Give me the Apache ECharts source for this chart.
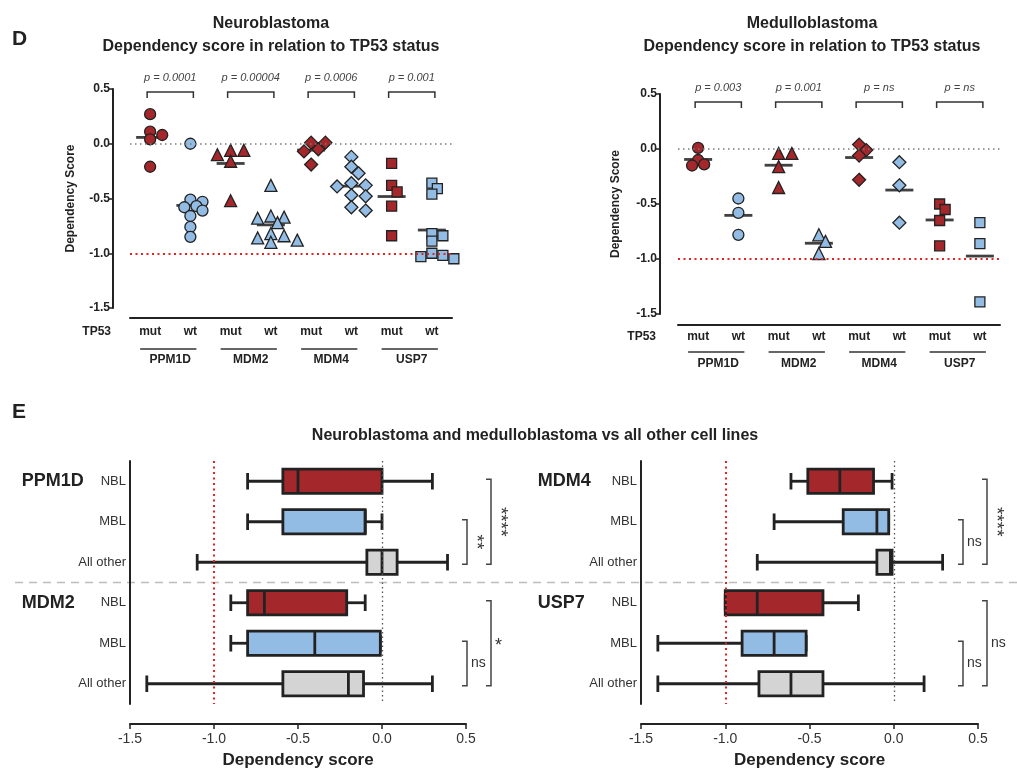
<!DOCTYPE html>
<html lang="en">
<head>
<meta charset="UTF-8">
<title>Dependency score</title>
<style>html,body{margin:0;padding:0;background:#fff;} #main{width:1017px;height:774px;}</style>
</head>
<body>
<div id="main"></div>
<script src="https://cdn.jsdelivr.net/npm/echarts@6/dist/echarts.min.js"></script>
<script>
// ---- values ----
var genes = ['PPM1D', 'MDM2', 'MDM4', 'USP7'];
var tp53 = ['mut', 'wt'];

// panel D, one list per gene (same order as genes)
var nblMut = [
    [0.27, 0.11, 0.08, 0.04, -0.21],
    [-0.06, -0.06, -0.10, -0.16, -0.52],
    [0.01, 0.01, -0.05, -0.07, -0.19],
    [-0.18, -0.38, -0.44, -0.57, -0.84]
];
var nblWt = [
    [0.00, -0.51, -0.53, -0.57, -0.58, -0.61, -0.66, -0.76, -0.85],
    [-0.38, -0.66, -0.67, -0.68, -0.72, -0.82, -0.84, -0.86, -0.88, -0.90],
    [-0.12, -0.21, -0.27, -0.36, -0.38, -0.39, -0.47, -0.48, -0.58, -0.61],
    [-0.36, -0.41, -0.46, -0.82, -0.84, -0.89, -1.00, -1.02, -1.03, -1.05]
];
var mblMut = [
    [0.01, -0.10, -0.14, -0.15],
    [-0.04, -0.04, -0.16, -0.35],
    [0.04, -0.01, -0.06, -0.28],
    [-0.50, -0.55, -0.65, -0.88]
];
var mblWt = [
    [-0.45, -0.58, -0.78],
    [-0.78, -0.84, -0.95],
    [-0.12, -0.33, -0.67],
    [-0.67, -0.86, -1.39]
];
var nblP = ['p = 0.0001', 'p = 0.00004', 'p = 0.0006', 'p = 0.001'];
var mblP = ['p = 0.003', 'p = 0.001', 'p = ns', 'p = ns'];

// panel E, [min, Q1, median, Q3, max] for NBL, MBL, All other
var boxGroups = ['NBL', 'MBL', 'All other'];
var boxPPM1D = [[-0.80, -0.59, -0.50, 0.00, 0.30], [-0.80, -0.59, -0.10, -0.10, 0.00], [-1.10, -0.09, 0.00, 0.09, 0.39]];
var boxMDM2 = [[-0.90, -0.80, -0.70, -0.21, -0.10], [-0.90, -0.80, -0.40, -0.01, -0.01], [-1.40, -0.59, -0.20, -0.11, 0.30]];
var boxMDM4 = [[-0.61, -0.51, -0.32, -0.12, -0.01], [-0.71, -0.30, -0.10, -0.03, -0.03], [-0.81, -0.10, -0.02, -0.01, 0.29]];
var boxUSP7 = [[-1.00, -1.00, -0.81, -0.42, -0.21], [-1.40, -0.90, -0.71, -0.52, -0.52], [-1.40, -0.80, -0.61, -0.42, 0.18]];
// [MBL vs all other, NBL vs all other]
var sigPPM1D = ['**', '****'];
var sigMDM2 = ['ns', '*'];
var sigMDM4 = ['ns', '****'];
var sigUSP7 = ['ns', 'ns'];

// ---- styling ----
var FONT = 'Liberation Sans, Arial, Helvetica, sans-serif';
var RED = '#a4272b', BLUE = '#93bce4', GREY = '#d4d4d4', INK = '#222';
var groupColors = [RED, BLUE, GREY];
var shapes = ['circle', 'triangle', 'diamond', 'rect'];
var shapeSize = [11, 12, 13, 10];

var chart = echarts.init(document.getElementById('main'));

var catKeys = [];
genes.forEach(function (g) {
    tp53.forEach(function (s) { catKeys.push(g + ' ' + s); });
});

function mean(a) {
    return a.reduce(function (s, v) { return s + v; }, 0) / a.length;
}

// simple beeswarm: horizontal pixel offsets so points only partly overlap
function swarm(vals, pxPerUnit, size) {
    var placed = [];
    return vals.map(function (v) {
        var y = v * pxPerUnit, dx = 0;
        for (var k = 0; k < 30; k++) {
            dx = (k % 2 ? 1 : -1) * Math.ceil(k / 2) * size * 0.55;
            var free = placed.every(function (p) {
                var a = p[0] - dx, b = p[1] - y;
                return a * a + b * b >= size * size * 0.45;
            });
            if (free) break;
        }
        placed.push([dx, y]);
        return dx;
    });
}

function bold(size) {
    return {color: INK, fontFamily: FONT, fontSize: size, fontWeight: 'bold'};
}

var topPanels = [
    {title: 'Neuroblastoma', cx: 271, mut: nblMut, wt: nblWt, p: nblP,
        left: 130, top: 89, width: 322, height: 219, yOffset: 17, xOffset: 10,
        labelMargin: 8, groupMargin: 36, tpGap: 19, nameGap: 36, bracketGap: 3, underline: 41},
    {title: 'Medulloblastoma', cx: 812, mut: mblMut, wt: mblWt, p: mblP,
        left: 678, top: 94, width: 322, height: 220, yOffset: 18, xOffset: 11,
        labelMargin: 6, groupMargin: 33, tpGap: 22, nameGap: 38, bracketGap: 8, underline: 38}
];

var boxPanels = [
    {genes: ['PPM1D', 'MDM2'], boxes: [boxPPM1D, boxMDM2], sig: [sigPPM1D, sigMDM2], left: 130, width: 336, sigBase: 1, geneWidth: 79},
    {genes: ['MDM4', 'USP7'], boxes: [boxMDM4, boxUSP7], sig: [sigMDM4, sigUSP7], left: 641, width: 337, sigBase: -15, geneWidth: 74}
];

var grids = [], xAxes = [], yAxes = [], series = [];
var titles = [
    {text: 'D', left: 12, top: 29, padding: 0, textStyle: bold(21)},
    {text: 'E', left: 12, top: 402, padding: 0, textStyle: bold(21)},
    {text: 'Neuroblastoma and medulloblastoma vs all other cell lines', left: 535, top: 428, padding: 0,
        textAlign: 'center', textStyle: bold(16)}
];

// ---- panel D: scatter by TP53 status ----
topPanels.forEach(function (pn, i) {
    titles.push({
        text: pn.title + '\nDependency score in relation to TP53 status',
        left: pn.cx, top: 12, padding: 0, textAlign: 'center',
        textStyle: Object.assign(bold(16), {lineHeight: 23})
    });
    grids.push({left: pn.left, top: pn.top, width: pn.width, height: pn.height});
    xAxes.push({
        type: 'category', gridIndex: i, data: catKeys, position: 'bottom', offset: pn.xOffset,
        axisLine: {onZero: false, lineStyle: {color: INK, width: 2}},
        axisTick: {alignWithLabel: true, length: 4, lineStyle: {color: INK, width: 1.5}},
        axisLabel: Object.assign(bold(12), {
            margin: pn.labelMargin, interval: 0,
            formatter: function (v) { return v.split(' ')[1]; }
        }),
        name: 'TP53', nameLocation: 'start', nameGap: pn.tpGap,
        nameTextStyle: Object.assign(bold(12), {verticalAlign: 'top', padding: [pn.labelMargin, 0, 0, 0]})
    });
    xAxes.push({
        type: 'category', gridIndex: i, data: genes, position: 'bottom', offset: pn.xOffset,
        axisLine: {show: false}, axisTick: {show: false},
        axisLabel: Object.assign(bold(12), {margin: pn.groupMargin, interval: 0})
    });
    yAxes.push({
        type: 'value', gridIndex: i, min: -1.5, max: 0.5, interval: 0.5, offset: pn.yOffset,
        splitLine: {show: false},
        axisLine: {show: true, onZero: false, lineStyle: {color: INK, width: 2}},
        axisTick: {show: true, length: 4, lineStyle: {color: INK, width: 1.5}},
        axisLabel: Object.assign(bold(12), {margin: 3, formatter: function (v) { return v.toFixed(1); }}),
        name: 'Dependency Score', nameLocation: 'middle', nameGap: pn.nameGap, nameTextStyle: bold(12)
    });

    var xi = i * 2, pxPerUnit = pn.height / 2, means = [];
    genes.forEach(function (g, gi) {
        [pn.mut[gi], pn.wt[gi]].forEach(function (vals, si) {
            var cat = gi * 2 + si;
            var offs = swarm(vals, pxPerUnit, shapeSize[gi]);
            means.push([cat, mean(vals)]);
            series.push({
                type: 'scatter', xAxisIndex: xi, yAxisIndex: i, z: 3,
                symbol: shapes[gi], symbolSize: shapeSize[gi],
                itemStyle: {color: si ? BLUE : RED, borderColor: INK, borderWidth: 1.3, opacity: 1},
                data: vals.map(function (v, k) {
                    return {value: [cat, v], symbolOffset: [offs[k], 0]};
                })
            });
        });
    });
    // mean bars + reference lines
    series.push({
        type: 'scatter', xAxisIndex: xi, yAxisIndex: i, z: 2,
        symbol: 'rect', symbolSize: [28, 2.8], itemStyle: {color: '#111'},
        data: means,
        markLine: {
            silent: true, symbol: 'none', label: {show: false},
            data: [
                {yAxis: 0, lineStyle: {color: '#7a7a7a', type: [1.5, 3.5], width: 1.5}},
                {yAxis: -1, lineStyle: {color: '#e02424', type: [2, 3.5], width: 2}}
            ]
        }
    });
    // p-value brackets
    series.push({
        type: 'custom', xAxisIndex: xi, yAxisIndex: i, silent: true, z: 2,
        encode: {x: 0, y: 1},
        data: genes.map(function (g, gi) { return [gi * 2, gi * 2 + 1]; }),
        renderItem: function (params, api) {
            var y = params.coordSys.y + pn.bracketGap;
            var x0 = api.coord([api.value(0), 0])[0] - 3;
            var x1 = api.coord([api.value(1), 0])[0] + 3;
            return {
                type: 'group', children: [
                    {type: 'polyline', shape: {points: [[x0, y + 6], [x0, y], [x1, y], [x1, y + 6]]},
                        style: {stroke: '#333', lineWidth: 1.5, fill: null}},
                    {type: 'text', x: (x0 + x1) / 2, y: y - 14,
                        style: {text: pn.p[params.dataIndex], align: 'center', verticalAlign: 'middle',
                            fontSize: 11, fontStyle: 'italic', fontFamily: FONT, fill: '#444'}}
                ]
            };
        }
    });
});

// ---- panel E: box plots ----
boxPanels.forEach(function (pb, j) {
    var gIdx = 2 + j, xi = 4 + j;
    var rowKeys = [];
    pb.genes.forEach(function (g) {
        boxGroups.forEach(function (b) { rowKeys.push(g + '|' + b); });
    });
    grids.push({left: pb.left, top: 461, width: pb.width, height: 243});
    xAxes.push({
        type: 'value', gridIndex: gIdx, min: -1.5, max: 0.5, interval: 0.5, offset: 20, position: 'bottom',
        splitLine: {show: false},
        axisLine: {show: true, onZero: false, lineStyle: {color: INK, width: 2}},
        axisTick: {show: true, length: 5, lineStyle: {color: INK, width: 1.5}},
        axisLabel: {color: '#333', fontFamily: FONT, fontSize: 14, margin: 8,
            formatter: function (v) { return v.toFixed(1); }},
        name: 'Dependency score', nameLocation: 'middle', nameGap: 28, nameTextStyle: bold(17)
    });
    yAxes.push({
        type: 'category', gridIndex: gIdx, data: rowKeys, inverse: true,
        axisLine: {onZero: false, lineStyle: {color: INK, width: 2}},
        axisTick: {alignWithLabel: true, length: 4, lineStyle: {color: INK, width: 1.5}},
        axisLabel: {
            interval: 0, margin: 4, color: '#333', fontFamily: FONT, fontSize: 13,
            formatter: function (v) {
                var p = v.split('|');
                return p[1] === boxGroups[0] ? '{g|' + p[0] + '}' + p[1] : p[1];
            },
            rich: {g: Object.assign(bold(18), {width: pb.geneWidth, align: 'left'})}
        }
    });

    var boxData = [], sigData = [], sigText = [];
    pb.genes.forEach(function (g, gi) {
        pb.boxes[gi].forEach(function (q, k) {
            boxData.push({value: [g + '|' + boxGroups[k]].concat(q), itemStyle: {color: groupColors[k]}});
        });
        sigData.push([g + '|' + boxGroups[1], g + '|' + boxGroups[2], 0]);
        sigData.push([g + '|' + boxGroups[0], g + '|' + boxGroups[2], 1]);
        sigText.push(pb.sig[gi][0], pb.sig[gi][1]);
    });

    series.push({
        type: 'custom', xAxisIndex: xi, yAxisIndex: gIdx, z: 3,
        encode: {x: [1, 2, 3, 4, 5], y: 0},
        data: boxData,
        renderItem: function (params, api) {
            var row = api.value(0);
            var p = [1, 2, 3, 4, 5].map(function (d) { return api.coord([api.value(d), row]); });
            var h = api.size([0, 1])[1] * 0.6, cap = h * 0.68, yc = p[0][1];
            var ln = {stroke: INK, lineWidth: 2.8};
            return {
                type: 'group', children: [
                    {type: 'line', shape: {x1: p[0][0], y1: yc, x2: p[1][0], y2: yc}, style: ln},
                    {type: 'line', shape: {x1: p[3][0], y1: yc, x2: p[4][0], y2: yc}, style: ln},
                    {type: 'line', shape: {x1: p[0][0], y1: yc - cap / 2, x2: p[0][0], y2: yc + cap / 2}, style: ln},
                    {type: 'line', shape: {x1: p[4][0], y1: yc - cap / 2, x2: p[4][0], y2: yc + cap / 2}, style: ln},
                    {type: 'rect', shape: {x: p[1][0], y: yc - h / 2, width: p[3][0] - p[1][0], height: h},
                        style: {fill: api.visual('color'), stroke: INK, lineWidth: 2.8}},
                    {type: 'line', shape: {x1: p[2][0], y1: yc - h / 2, x2: p[2][0], y2: yc + h / 2}, style: ln}
                ]
            };
        }
    });
    // significance brackets
    series.push({
        type: 'custom', xAxisIndex: xi, yAxisIndex: gIdx, silent: true, z: 2,
        encode: {y: [0, 1], x: 2},
        data: sigData,
        renderItem: function (params, api) {
            var cs = params.coordSys;
            var ya = api.coord([0, api.value(0)])[1] - 2;
            var yb = api.coord([0, api.value(1)])[1] + 2;
            var x = cs.x + cs.width + pb.sigBase + api.value(2) * 24;
            var txt = sigText[params.dataIndex];
            var turned = txt.length > 1 && txt.charAt(0) === '*';
            var label = turned
                ? {type: 'text', x: x + 9, y: (ya + yb) / 2, rotation: -Math.PI / 2,
                    style: {text: txt, align: 'center', verticalAlign: 'middle', fontSize: 19, fontFamily: FONT, fill: '#333'}}
                : {type: 'text', x: x + 4, y: (ya + yb) / 2 + (txt === '*' ? 3 : 0),
                    style: {text: txt, align: 'left', verticalAlign: 'middle', fontSize: txt === '*' ? 18 : 14, fontFamily: FONT, fill: '#333'}};
            return {
                type: 'group', children: [
                    {type: 'polyline', shape: {points: [[x - 5, ya], [x, ya], [x, yb], [x - 5, yb]]},
                        style: {stroke: '#444', lineWidth: 1.5, fill: null}},
                    label
                ]
            };
        }
    });
    // reference lines at -1 and 0
    series.push({
        type: 'line', xAxisIndex: xi, yAxisIndex: gIdx, data: [],
        markLine: {
            silent: true, symbol: 'none', label: {show: false},
            data: [
                {xAxis: -1, lineStyle: {color: '#e02424', type: [2, 3.5], width: 2}},
                {xAxis: 0, lineStyle: {color: '#555', type: [1.5, 3], width: 1.3}}
            ]
        }
    });
});

var option = {
    animation: false,
    backgroundColor: '#fff',
    textStyle: {fontFamily: FONT},
    title: titles,
    grid: grids,
    xAxis: xAxes,
    yAxis: yAxes,
    series: series
};
chart.setOption(option);

// gene underlines under mut/wt pairs and the dashed divider in panel E
var extras = [];
topPanels.forEach(function (pn, i) {
    genes.forEach(function (g, gi) {
        var a = chart.convertToPixel({xAxisIndex: i * 2, yAxisIndex: i}, [gi * 2, -1.5]);
        var b = chart.convertToPixel({xAxisIndex: i * 2, yAxisIndex: i}, [gi * 2 + 1, -1.5]);
        var y = a[1] + pn.underline;
        extras.push({type: 'line', silent: true, shape: {x1: a[0] - 10, y1: y, x2: b[0] + 6, y2: y},
            style: {stroke: '#333', lineWidth: 1.5}});
    });
});
var r2 = chart.convertToPixel({xAxisIndex: 4, yAxisIndex: 2}, [0, 2])[1];
var r3 = chart.convertToPixel({xAxisIndex: 4, yAxisIndex: 2}, [0, 3])[1];
extras.push({type: 'line', silent: true, shape: {x1: 15, y1: (r2 + r3) / 2, x2: 1017, y2: (r2 + r3) / 2},
    style: {stroke: '#bdbdbd', lineWidth: 1.5, lineDash: [8, 6]}});
chart.setOption({graphic: extras});
</script>
</body>
</html>
